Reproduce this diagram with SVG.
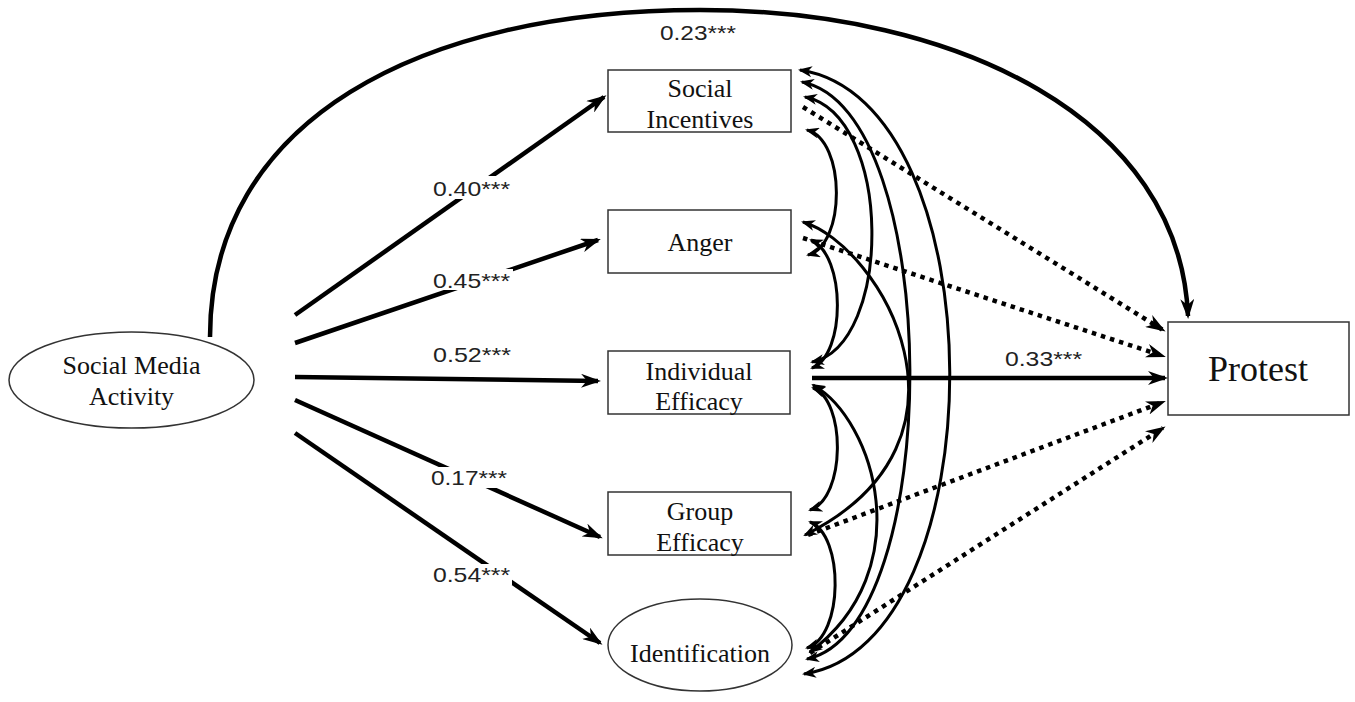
<svg xmlns="http://www.w3.org/2000/svg" width="1355" height="702" viewBox="0 0 1355 702">
<style>
.node{fill:#fff;stroke:#333;stroke-width:1.5}
.nt{font-family:"Liberation Serif","Times New Roman",serif;font-size:26px;fill:#111;text-anchor:middle}
.lb{font-family:"Liberation Sans",Arial,sans-serif;font-size:21px;fill:#222}
.main{fill:none;stroke:#000;stroke-width:4.5}
.arc{fill:none;stroke:#000;stroke-width:3}
.dot{fill:none;stroke:#000;stroke-width:4.5;stroke-dasharray:4.5 5}
</style>
<defs>
<marker id="ah" markerWidth="20" markerHeight="14" refX="17" refY="7" orient="auto" markerUnits="userSpaceOnUse"><path d="M0,0 L20,7 L0,14 L6,7 z" fill="#000"/></marker>
<marker id="as" markerWidth="14" markerHeight="11" refX="12" refY="5.5" orient="auto-start-reverse" markerUnits="userSpaceOnUse"><path d="M0,0 L14,5.5 L0,11 L4,5.5 z" fill="#000"/></marker>
</defs>

<g id="connectors">
<path class="main" d="M210,337 C210,120 420,10 700,10 C960,10 1180,120 1188,316" marker-end="url(#ah)"/>
<path class="main" d="M295,315 L604,97" marker-end="url(#ah)"/>
<path class="main" d="M295,343 L598,240" marker-end="url(#ah)"/>
<path class="main" d="M295,377 L598,381" marker-end="url(#ah)"/>
<path class="main" d="M295,400 L600,537" marker-end="url(#ah)"/>
<path class="main" d="M295,433 L600,643" marker-end="url(#ah)"/>
<path class="main" d="M812,378 L1165,378" marker-end="url(#ah)"/>
<path class="dot" d="M803,107 L1163,330" marker-end="url(#ah)"/>
<path class="dot" d="M803,238 L1163,356" marker-end="url(#ah)"/>
<path class="dot" d="M808,535 L1163,402" marker-end="url(#ah)"/>
<path class="dot" d="M810,653 L1163,428" marker-end="url(#ah)"/>
<path class="arc" d="M807,130 C846,140 846,245 808,255" marker-start="url(#as)" marker-end="url(#as)"/>
<path class="arc" d="M805,97 C893,115 893,345 812,362" marker-start="url(#as)" marker-end="url(#as)"/>
<path class="arc" d="M802,82 C945,110 945,630 807,659" marker-start="url(#as)" marker-end="url(#as)"/>
<path class="arc" d="M800,70 C999,100 999,645 804,674" marker-start="url(#as)" marker-end="url(#as)"/>
<path class="arc" d="M811,240 C846,255 846,355 812,368" marker-start="url(#as)" marker-end="url(#as)"/>
<path class="arc" d="M803,222 C880,245 995,440 805,535" marker-start="url(#as)" marker-end="url(#as)"/>
<path class="arc" d="M813,388 C846,400 846,498 810,510" marker-start="url(#as)" marker-end="url(#as)"/>
<path class="arc" d="M813,385 C875,420 920,570 810,652" marker-start="url(#as)" marker-end="url(#as)"/>
<path class="arc" d="M810,522 C844,535 844,636 807,648" marker-start="url(#as)" marker-end="url(#as)"/>
</g>

<g id="labels">
<text class="lb" x="660" y="40" textLength="76" lengthAdjust="spacingAndGlyphs">0.23***</text>
<rect x="432" y="176" width="81" height="23" fill="#fff"/>
<text class="lb" x="433" y="196" textLength="77" lengthAdjust="spacingAndGlyphs">0.40***</text>
<rect x="432" y="269" width="81" height="21" fill="#fff"/>
<text class="lb" x="433" y="288" textLength="77" lengthAdjust="spacingAndGlyphs">0.45***</text>
<text class="lb" x="433" y="362" textLength="78" lengthAdjust="spacingAndGlyphs">0.52***</text>
<rect x="430" y="467" width="79" height="21" fill="#fff"/>
<text class="lb" x="431" y="485" textLength="76" lengthAdjust="spacingAndGlyphs">0.17***</text>
<rect x="432" y="564" width="80" height="21" fill="#fff"/>
<text class="lb" x="433" y="582" textLength="77" lengthAdjust="spacingAndGlyphs">0.54***</text>
<text class="lb" x="1005" y="366" textLength="77" lengthAdjust="spacingAndGlyphs">0.33***</text>
</g>

<g id="sma">
<ellipse class="node" cx="131.5" cy="380" rx="122.5" ry="48"/>
<text class="nt" x="131.5" y="374">Social Media</text>
<text class="nt" x="131.5" y="405">Activity</text>
</g>
<g id="social-incentives">
<rect class="node" x="608" y="70" width="183" height="62"/>
<text class="nt" x="700" y="97">Social</text>
<text class="nt" x="700" y="128">Incentives</text>
</g>
<g id="anger">
<rect class="node" x="608" y="210" width="183" height="63"/>
<text class="nt" x="700" y="251">Anger</text>
</g>
<g id="individual-efficacy">
<rect class="node" x="608" y="351" width="182" height="63"/>
<text class="nt" x="699" y="380">Individual</text>
<text class="nt" x="699" y="410">Efficacy</text>
</g>
<g id="group-efficacy">
<rect class="node" x="608" y="492" width="183" height="63"/>
<text class="nt" x="700" y="520">Group</text>
<text class="nt" x="700" y="551">Efficacy</text>
</g>
<g id="identification">
<ellipse class="node" cx="700" cy="645" rx="92" ry="46"/>
<text class="nt" x="700" y="662">Identification</text>
</g>
<g id="protest">
<rect class="node" x="1168" y="322" width="181" height="93"/>
<text class="nt" x="1258" y="381" style="font-size:36px">Protest</text>
</g>
</svg>
